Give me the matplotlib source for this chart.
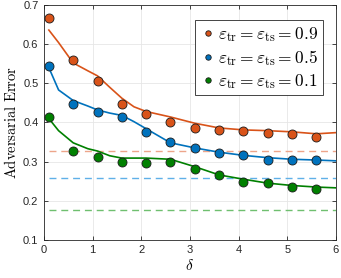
import matplotlib
matplotlib.use("Agg")
import matplotlib.pyplot as plt

plt.rcParams['mathtext.fontset'] = 'cm'
plt.rcParams['font.family'] = ['Liberation Sans', 'DejaVu Sans']

# Data
delta_pts = [0.1, 0.6, 1.1, 1.6, 2.1, 2.6, 3.1, 3.6, 4.1, 4.6, 5.1, 5.6]
err_09 = [0.666, 0.559, 0.505, 0.446, 0.422, 0.401, 0.387, 0.382, 0.379, 0.374, 0.371, 0.364]
err_05 = [0.544, 0.447, 0.427, 0.413, 0.375, 0.349, 0.335, 0.323, 0.316, 0.303, 0.305, 0.305]
err_01 = [0.415, 0.328, 0.311, 0.298, 0.296, 0.300, 0.282, 0.266, 0.248, 0.245, 0.236, 0.231]

delta_fit = [0.1, 0.3, 0.6, 0.9, 1.1, 1.35, 1.6, 1.85, 2.1, 2.6, 3.1, 3.6, 4.1, 4.6, 5.1, 5.6, 6.0]
fit_09 = [0.636, 0.604, 0.552, 0.532, 0.519, 0.490, 0.462, 0.440, 0.428, 0.414, 0.398, 0.386, 0.381, 0.379, 0.376, 0.371, 0.374]
fit_05 = [0.540, 0.483, 0.456, 0.442, 0.432, 0.424, 0.418, 0.402, 0.384, 0.348, 0.335, 0.324, 0.316, 0.310, 0.306, 0.304, 0.302]
fit_01 = [0.410, 0.379, 0.348, 0.333, 0.327, 0.315, 0.309, 0.309, 0.309, 0.306, 0.287, 0.266, 0.255, 0.245, 0.239, 0.235, 0.233]

baseline = [0.328, 0.258, 0.177]
dash_range = [0.1, 6.0]

labels = [r'$\varepsilon_{\rm tr} = \varepsilon_{\rm ts} = 0.9$',
          r'$\varepsilon_{\rm tr} = \varepsilon_{\rm ts} = 0.5$',
          r'$\varepsilon_{\rm tr} = \varepsilon_{\rm ts} = 0.1$']
colors = ['#D95319', '#0072BD', '#008000']
dash_colors = ['#EDA58A', '#5FB0E8', '#6FBF6F']

fig = plt.figure(figsize=(3.41, 2.78), dpi=100)
ax = fig.add_axes([0.129, 0.137, 0.856, 0.845])

for pts, fit, c, dc, b, lab in zip([err_09, err_05, err_01], [fit_09, fit_05, fit_01],
                                    colors, dash_colors, baseline, labels):
    ax.plot(delta_fit, fit, color=c, lw=1.2, zorder=3)
    ax.plot(delta_pts, pts, 'o', color=c, mec='#1a1a1a', mew=0.6, ms=6.5, zorder=4, label=lab)
    ax.plot(dash_range, [b, b], '--', color=dc, lw=1.0, dashes=(5, 3.5), zorder=2)

ax.set_xlim(0, 6)
ax.set_ylim(0.1, 0.7)
ax.set_xticks(range(0, 7))
ax.set_yticks([0.1, 0.2, 0.3, 0.4, 0.5, 0.6, 0.7])
ax.grid(True, color='#e6e6e6', lw=0.6)
ax.set_axisbelow(True)
ax.tick_params(direction='in', length=3, width=0.6, labelsize=8, colors='#262626',
               top=True, right=True, pad=4)
for s in ax.spines.values():
    s.set_color('#262626')
    s.set_linewidth(0.6)

ax.set_xlabel(r'$\delta$', fontsize=11, labelpad=2)
ax.set_ylabel(r'$\mathrm{Adversarial\ Error}$', fontsize=10.5, labelpad=3)

leg = ax.legend(loc='upper right', bbox_to_anchor=(0.955, 0.935), fontsize=12.5,
                markerscale=0.6, handletextpad=0.1, handlelength=1.0,
                borderpad=0.25, labelspacing=0.25, borderaxespad=0,
                fancybox=False, framealpha=1)
leg.get_frame().set_edgecolor('#262626')
leg.get_frame().set_linewidth(0.6)

fig.savefig('out.png', dpi=100)
